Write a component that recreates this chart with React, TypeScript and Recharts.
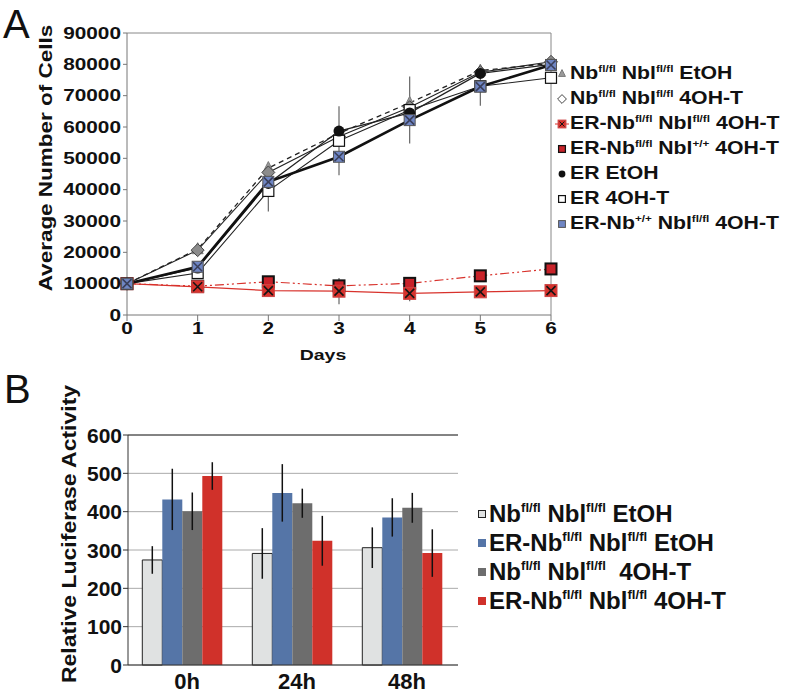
import React from 'react'
import { LineChart, Line, XAxis, YAxis, ReferenceLine, ErrorBar, BarChart, Bar, CartesianGrid, Label } from 'recharts'

const FONT = '"Liberation Sans", Arial, Helvetica, sans-serif'

// ---- panel A: growth curves ----
const days = [0, 1, 2, 3, 4, 5, 6]
const nbEtoh = [10000, 21000, 46900, 58000, 67700, 78000, 80300]
const nb4oht = [10000, 20700, 45500, 57000, 66300, 77500, 80800]
const erNbNbl4oht = [10000, 9000, 7800, 7600, 6900, 7400, 7800]
const erNbNblWt4oht = [10000, 9200, 10600, 9300, 10100, 12500, 14700]
const erEtoh = [10000, 15000, 42000, 58700, 64500, 77100, 80000]
const er4oht = [10000, 13400, 39600, 55600, 65400, 73000, 75700]
const erNbWt4oht = [10000, 15400, 42500, 50500, 62200, 72900, 79800]
const er4ohtErr = [0, 1200, 6600, 11000, 10700, 6200, 1500]
const erNbNbl4ohtErr = [0, 800, 1500, 4200, 2500, 900, 900]
const cellTicks = [0, 10000, 20000, 30000, 40000, 50000, 60000, 70000, 80000, 90000]

const legendA = [
  'Nb^{fl/fl} Nbl^{fl/fl} EtOH',
  'Nb^{fl/fl} Nbl^{fl/fl} 4OH-T',
  'ER-Nb^{fl/fl} Nbl^{fl/fl} 4OH-T',
  'ER-Nb^{fl/fl} Nbl^{+/+} 4OH-T',
  'ER EtOH',
  'ER 4OH-T',
  'ER-Nb^{+/+} Nbl^{fl/fl} 4OH-T',
]

// ---- panel B: luciferase ----
const timepoints = ['0h', '24h', '48h']
const nbEtohB = [274, 291, 306]
const erNbEtohB = [432, 449, 385]
const nb4ohtB = [401, 422, 410]
const erNb4ohtB = [493, 324, 292]
const nbEtohBErr = [36, 66, 53]
const erNbEtohBErr = [80, 75, 50]
const nb4ohtBErr = [49, 38, 39]
const erNb4ohtBErr = [36, 65, 62]
const lucTicks = [0, 100, 200, 300, 400, 500, 600]

const legendB = [
  'Nb^{fl/fl} Nbl^{fl/fl} EtOH',
  'ER-Nb^{fl/fl} Nbl^{fl/fl} EtOH',
  'Nb^{fl/fl} Nbl^{fl/fl}  4OH-T',
  'ER-Nb^{fl/fl} Nbl^{fl/fl} 4OH-T',
]

const growthData = days.map((d, i) => ({
  day: d,
  nbEtoh: nbEtoh[i],
  nb4oht: nb4oht[i],
  erNbNbl4oht: erNbNbl4oht[i],
  erNbNblWt4oht: erNbNblWt4oht[i],
  erEtoh: erEtoh[i],
  er4oht: er4oht[i],
  erNbWt4oht: erNbWt4oht[i],
  er4ohtErr: er4ohtErr[i],
  erNbNbl4ohtErr: erNbNbl4ohtErr[i],
}))

const lucData = timepoints.map((t, i) => ({
  t,
  a: nbEtohB[i], aErr: nbEtohBErr[i],
  b: erNbEtohB[i], bErr: erNbEtohBErr[i],
  c: nb4ohtB[i], cErr: nb4ohtBErr[i],
  d: erNb4ohtB[i], dErr: erNb4ohtBErr[i],
}))

const RED = '#d8322c'
const BLUE = '#6f86c4'

type Kind = 'tri' | 'diamond' | 'redX' | 'redSq' | 'circle' | 'openSq' | 'blueX'

function Marker({ cx, cy, kind, s = 1 }: { cx: number; cy: number; kind: Kind; s?: number }) {
  const r = 5.5 * s
  const x = (c: string) => <path d={`M${cx - r + 1},${cy - r + 1}L${cx + r - 1},${cy + r - 1}M${cx + r - 1},${cy - r + 1}L${cx - r + 1},${cy + r - 1}`} stroke={c} strokeWidth={1.6 * s} />
  switch (kind) {
    case 'tri':
      return <polygon points={`${cx},${cy - r - 1} ${cx + r},${cy + r - 1} ${cx - r},${cy + r - 1}`} fill="#9a9a9a" stroke="#7a7a7a" />
    case 'diamond':
      return <polygon points={`${cx},${cy - r - 1} ${cx + r + 1},${cy} ${cx},${cy + r + 1} ${cx - r - 1},${cy}`} fill={s < 1 ? '#fff' : '#8c8c8c'} stroke="#444" strokeWidth={1} />
    case 'redX':
      return <g><rect x={cx - r - 0.5} y={cy - r - 0.5} width={2 * r + 1} height={2 * r + 1} fill={RED} stroke="#c44" />{x('#151515')}</g>
    case 'redSq':
      return <rect x={cx - r} y={cy - r} width={2 * r} height={2 * r} fill="#c8232a" stroke="#111" strokeWidth={2 * s} />
    case 'circle':
      return <circle cx={cx} cy={cy} r={r} fill="#111" />
    case 'openSq':
      return <rect x={cx - r} y={cy - r} width={2 * r} height={2 * r} fill="#fff" stroke="#111" strokeWidth={1.2} />
    case 'blueX':
      return <g><rect x={cx - r} y={cy - r} width={2 * r} height={2 * r} fill={BLUE} stroke="#555" />{s >= 1 && x('#3a3f5a')}</g>
  }
}

const dotOf = (kind: Kind, id: string) => (p: any) => <Marker key={`${id}-${p.index}`} cx={p.cx} cy={p.cy} kind={kind} />

function Rich({ text, supSize }: { text: string; supSize: string }) {
  const parts = text.split(/\^\{([^}]*)\}/)
  return (
    <span style={{ whiteSpace: 'pre' }}>
      {parts.map((p, i) =>
        i % 2 === 1
          ? <sup key={i} style={{ fontSize: supSize, verticalAlign: 'top', lineHeight: 1, position: 'relative', top: '0.1em' }}>{p}</sup>
          : <span key={i}>{p}</span>
      )}
    </span>
  )
}

const ATick = ({ x, y, payload, axis }: any) => {
  if (axis === 'y') {
    return (
      <g transform={`translate(${x},${y}) scale(1.3,1)`}>
        <text textAnchor="end" dy="0.36em" fontSize={16} fontWeight="bold" fill="#111" fontFamily={FONT}>{payload.value}</text>
      </g>
    )
  }
  return (
    <g transform={`translate(${x},${y}) scale(1.3,1)`}>
      <text textAnchor="middle" dy="0.71em" fontSize={16} fontWeight="bold" fill="#111" fontFamily={FONT}>{payload.value}</text>
    </g>
  )
}

const BTick = ({ x, y, payload, axis }: any) => {
  if (axis === 'y') {
    return <text x={x} y={y} textAnchor="end" dy="0.36em" fontSize={21} fontWeight="bold" fill="#111" fontFamily={FONT}>{payload.value}</text>
  }
  return <text x={x + 4} y={y} textAnchor="middle" dy="0.71em" fontSize={22} fontWeight="bold" fill="#111" fontFamily={FONT}>{payload.value}</text>
}

const seriesA: { key: string; kind: Kind; stroke: string; width: number; dash?: string; err?: string }[] = [
  { key: 'erNbNblWt4oht', kind: 'redSq', stroke: RED, width: 1.2, dash: '9 3 2 3 2 3' },
  { key: 'erNbNbl4oht', kind: 'redX', stroke: RED, width: 1.2, err: 'erNbNbl4ohtErr' },
  { key: 'nbEtoh', kind: 'tri', stroke: '#222', width: 1.3, dash: '5 4' },
  { key: 'nb4oht', kind: 'diamond', stroke: '#222', width: 1.1 },
  { key: 'er4oht', kind: 'openSq', stroke: '#222', width: 1.1, err: 'er4ohtErr' },
  { key: 'erEtoh', kind: 'circle', stroke: '#222', width: 1.3 },
  { key: 'erNbWt4oht', kind: 'blueX', stroke: '#111', width: 2.6 },
]
const legendKindsA: Kind[] = ['tri', 'diamond', 'redX', 'redSq', 'circle', 'openSq', 'blueX']
const legendColorsB = ['#e0e2e2', '#5575a7', '#6d6d6d', '#d0312a']

export default function App() {
  return (
    <div style={{ position: 'absolute', left: 0, top: 0, width: 797, height: 694, background: '#fff', fontFamily: FONT, overflow: 'hidden' }}>
      <div style={{ position: 'absolute', left: 3, top: 1, fontSize: 40, lineHeight: 1.15, color: '#111' }}>A</div>
      <div style={{ position: 'absolute', left: 4, top: 366, fontSize: 40, lineHeight: 1.15, color: '#111' }}>B</div>

      <div style={{ position: 'absolute', left: 0, top: 0 }}>
        <LineChart width={797} height={370} data={growthData} margin={{ top: 33, right: 246, bottom: 0, left: 0 }}>
          <XAxis dataKey="day" type="number" domain={[0, 6]} ticks={days} height={55} tickSize={6} tickMargin={2}
            stroke="#777" tick={(p: any) => <ATick {...p} axis="x" />}>
            <Label content={() => (
              <g transform="translate(323,360) scale(1.3,1)">
                <text textAnchor="middle" fontSize={15} fontWeight="bold" fill="#111" fontFamily={FONT}>Days</text>
              </g>
            )} />
          </XAxis>
          <YAxis type="number" domain={[0, 90000]} ticks={cellTicks} width={127} tickSize={4} tickMargin={2}
            stroke="#777" tick={(p: any) => <ATick {...p} axis="y" />}>
            <Label content={() => (
              <g transform="translate(46,158) rotate(-90) scale(1,0.8)">
                <text textAnchor="middle" dy="0.36em" fontSize={22.5} fontWeight="bold" fill="#111" fontFamily={FONT}>Average Number of Cells</text>
              </g>
            )} />
          </YAxis>
          <ReferenceLine y={90000} stroke="#888" />
          <ReferenceLine x={6} stroke="#888" />
          {seriesA.map(s => (
            <Line key={s.key} dataKey={s.key} stroke={s.stroke} strokeWidth={s.width} strokeDasharray={s.dash}
              dot={dotOf(s.kind, s.key)} activeDot={false} isAnimationActive={false} type="linear">
              {s.err && <ErrorBar dataKey={s.err} direction="y" width={0} stroke="#666" strokeWidth={1.2} />}
            </Line>
          ))}
        </LineChart>
      </div>

      <div style={{ position: 'absolute', left: 555, top: 61, fontWeight: 'bold', fontSize: 18, color: '#111' }}>
        {legendA.map((name, i) => (
          <div key={name} style={{ height: 25, display: 'flex', alignItems: 'center' }}>
            <svg width={14} height={14} style={{ marginRight: 1 }}>
              {legendKindsA[i] === 'redX' && <line x1={0} y1={7} x2={14} y2={7} stroke={RED} />}
              <Marker cx={7} cy={7} kind={legendKindsA[i]} s={0.62} />
            </svg>
            <div style={{ transform: 'scaleX(1.18)', transformOrigin: 'left center' }}>
              <Rich text={name} supSize="0.55em" />
            </div>
          </div>
        ))}
      </div>

      <div style={{ position: 'absolute', left: 0, top: 375 }}>
        <BarChart width={470} height={319} data={lucData} margin={{ top: 60, right: 12, bottom: 0, left: 0 }}
          barCategoryGap="13%" barGap={0}>
          <CartesianGrid horizontal vertical={false} stroke="#aaa" />
          <XAxis dataKey="t" height={29} tickLine={false} tickMargin={2} stroke="#333" tick={(p: any) => <BTick {...p} axis="x" />} />
          <YAxis domain={[0, 600]} ticks={lucTicks} width={128} tickSize={5} tickMargin={1} stroke="#333"
            tick={(p: any) => <BTick {...p} axis="y" />}>
            <Label content={() => (
              <g transform="translate(69,159) rotate(-90) scale(1,0.88)">
                <text textAnchor="middle" dy="0.36em" fontSize={23} fontWeight="bold" fill="#111" fontFamily={FONT}>Relative Luciferase Activity</text>
              </g>
            )} />
          </YAxis>
          <YAxis yAxisId="r" orientation="right" width={0} tick={false} tickLine={false} stroke="#333" domain={[0, 600]} />
          <ReferenceLine y={600} stroke="#333" />
          <Bar dataKey="a" fill={legendColorsB[0]} stroke="#222" strokeWidth={1} isAnimationActive={false}>
            <ErrorBar dataKey="aErr" width={0} stroke="#111" strokeWidth={1.5} />
          </Bar>
          <Bar dataKey="b" fill={legendColorsB[1]} isAnimationActive={false}>
            <ErrorBar dataKey="bErr" width={0} stroke="#111" strokeWidth={1.5} />
          </Bar>
          <Bar dataKey="c" fill={legendColorsB[2]} isAnimationActive={false}>
            <ErrorBar dataKey="cErr" width={0} stroke="#111" strokeWidth={1.5} />
          </Bar>
          <Bar dataKey="d" fill={legendColorsB[3]} isAnimationActive={false}>
            <ErrorBar dataKey="dErr" width={0} stroke="#111" strokeWidth={1.5} />
          </Bar>
        </BarChart>
      </div>

      <div style={{ position: 'absolute', left: 478, top: 499, fontWeight: 'bold', fontSize: 24, color: '#111' }}>
        {legendB.map((name, i) => (
          <div key={name} style={{ height: 29, display: 'flex', alignItems: 'center' }}>
            <div style={{ width: 8, height: 8, background: legendColorsB[i], border: i === 0 ? '1px solid #222' : 'none', boxSizing: 'border-box', marginRight: 3 }} />
            <Rich text={name} supSize="0.55em" />
          </div>
        ))}
      </div>
    </div>
  )
}
